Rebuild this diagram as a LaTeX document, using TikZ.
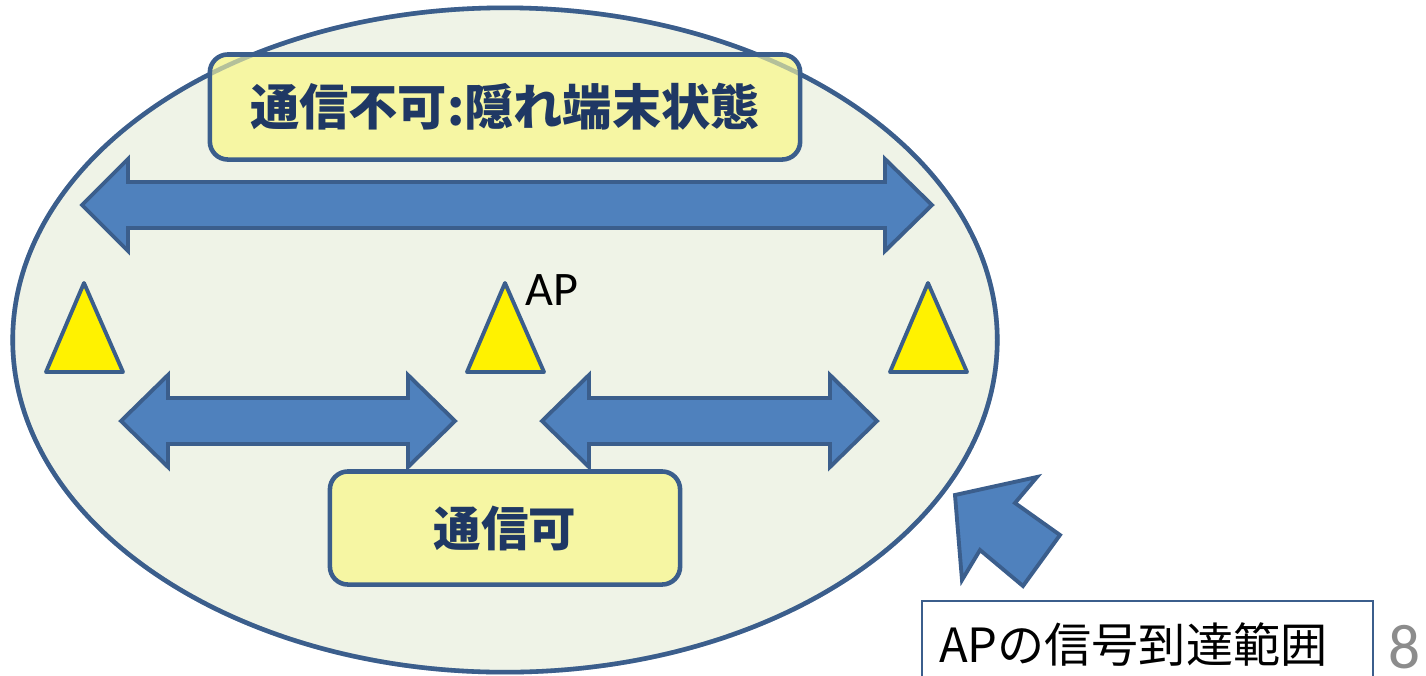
\documentclass[tikz,border=0pt]{standalone}
\usepackage{fontspec}
\usepackage{tikz}
\usetikzlibrary{positioning}
\newfontfamily\jpfont{Noto Sans CJK JP}
\newfontfamily\latinfont{Carlito}
\definecolor{rangefill}{RGB}{239,243,231}
\definecolor{edgeblue}{RGB}{59,94,140}
\definecolor{arrowblue}{RGB}{79,129,189}
\definecolor{boxyellow}{RGB}{246,246,163}
\definecolor{textnavy}{RGB}{31,56,100}
\definecolor{pagegray}{RGB}{140,140,140}
\tikzset{
  blockarrow/.style={draw=edgeblue, fill=arrowblue, line width=1.1pt, line join=miter},
  sta/.style={draw=edgeblue, fill=yellow, line width=1.1pt, line join=round},
  statebox/.style={draw=edgeblue, fill=boxyellow, line width=1.3pt, rounded corners=0.18cm,
    text=textnavy, font=\jpfont\bfseries\fontsize{14}{17}\selectfont},
}

\begin{document}
\begin{tikzpicture}[x=0.01cm,y=-0.01cm]
\useasboundingbox (0,0) rectangle (1426,675);
% signal range of the AP
\draw[draw=edgeblue, fill=rangefill, line width=1.3pt] (505,340) ellipse (4.92cm and 3.32cm);
% hidden terminals cannot hear each other
\draw[blockarrow] (82,205) -- (128,159) -- (128,182) -- (885,182) -- (885,159) -- (932,205)
  -- (885,251) -- (885,228) -- (128,228) -- (128,251) -- cycle;
% stations and the AP
\draw[sta] (84,283) -- (123,372) -- (46,372) -- cycle;
\draw[sta] (505,283) -- (544,372) -- (467,372) -- cycle;
\draw[sta] (928,283) -- (967,372) -- (890,372) -- cycle;
\node[anchor=base west, inner sep=0, font=\latinfont\fontsize{13.7}{16}\selectfont] (aplabel) at (525,305) {AP};
% each station reaches the AP
\draw[blockarrow] (121,421) -- (168,375) -- (168,398) -- (408,398) -- (408,375) -- (455,421)
  -- (408,467) -- (408,444) -- (168,444) -- (168,467) -- cycle;
\draw[blockarrow] (542,421) -- (589,375) -- (589,398) -- (830,398) -- (830,375) -- (877,421)
  -- (830,467) -- (830,444) -- (589,444) -- (589,467) -- cycle;
% labels
\node[statebox, minimum width=5.9cm, minimum height=1.05cm] (hidden) at (505,107) {通信不可:隠れ端末状態};
\draw[edgeblue, line width=1.3pt, draw opacity=0.35] (505,340) ellipse (4.92cm and 3.32cm);
\node[statebox, minimum width=3.5cm, minimum height=1.13cm, font=\jpfont\bfseries\fontsize{13.5}{16}\selectfont] (ok) at (505,528) {通信可};
% pointer to the range
\draw[blockarrow] (955,495) -- (1037,477) -- (1015,503) -- (1060,535) -- (1023,586) -- (980,550) -- (962,580) -- cycle;
\node[draw=edgeblue, line width=0.6pt, fill=white, anchor=north west, inner ysep=0, inner xsep=0.17cm,
  text width=4.17cm, align=left, minimum height=0.86cm, font=\jpfont\fontsize{13.4}{16}\selectfont] (range) at (921,600) {APの信号到達範囲};
\node[anchor=base west, inner sep=0, text=pagegray, font=\latinfont\fontsize{18}{22}\selectfont] (pagenum) at (1388,668) {8};
\end{tikzpicture}
\end{document}
